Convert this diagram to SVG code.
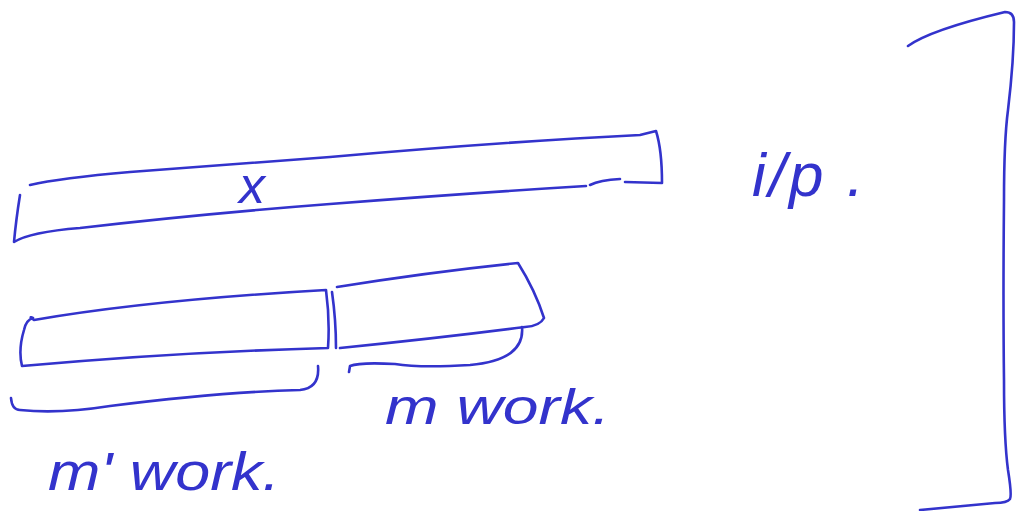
<svg xmlns="http://www.w3.org/2000/svg" width="1017" height="511" viewBox="0 0 1017 511">
<style>
.s{fill:none;stroke:#3333cc;stroke-width:2.6;stroke-linecap:round;stroke-linejoin:round}
.t{fill:#3333cc;font-family:"Liberation Sans",sans-serif;font-style:italic}
</style>
<rect width="1017" height="511" fill="#fff"/>
<g id="input-x">
<path class="s" d="M30,185 Q60,178 130,172 L330,157 Q500,142 640,135 L656,131 Q662,150 662,183 L625,182 M620,179 Q600,180 590,185 M20,195 Q16,220 14,242 Q30,232 80,228 Q200,214 330,204 Q470,193 586,186"/>
<text class="t" x="252" y="203" font-size="52" text-anchor="middle">x</text>
</g>
<g id="m-prime">
<path class="s" d="M33,318 Q28,316 34,320 Q150,300 326,290 Q330,320 328,348 Q180,352 22,366 Q18,350 24,330 Q26,320 33,318 M332,292 Q336,320 336,348"/>
</g>
<g id="m">
<path class="s" d="M337,287 Q430,272 518,263 Q535,290 544,318 Q540,326 525,327 Q440,338 340,348"/>
</g>
<g id="labels">
<text class="t" x="752" y="196" font-size="62" textLength="112" lengthAdjust="spacing">i/p .</text>
<text class="t" x="385" y="424" font-size="50" textLength="225" lengthAdjust="spacingAndGlyphs">m work.</text>
<text class="t" x="48" y="490" font-size="54" textLength="232" lengthAdjust="spacingAndGlyphs">m' work.</text>
</g>
<g id="connectors">
<path class="s" d="M11,398 Q12,410 20,410 Q60,414 110,406 Q220,392 300,390 Q320,388 318,366"/>
<path class="s" d="M522,327 Q525,360 470,365 Q420,368 395,364 Q360,362 350,366 L349,372"/>
<path class="s" d="M908,46 Q930,30 1005,12 Q1014,12 1014,22 Q1014,60 1008,110 Q1004,140 1004,200 Q1003,300 1004,380 Q1004,440 1008,470 Q1012,495 1010,499 Q1007,503 995,503 L920,510"/>
</g>
</svg>
